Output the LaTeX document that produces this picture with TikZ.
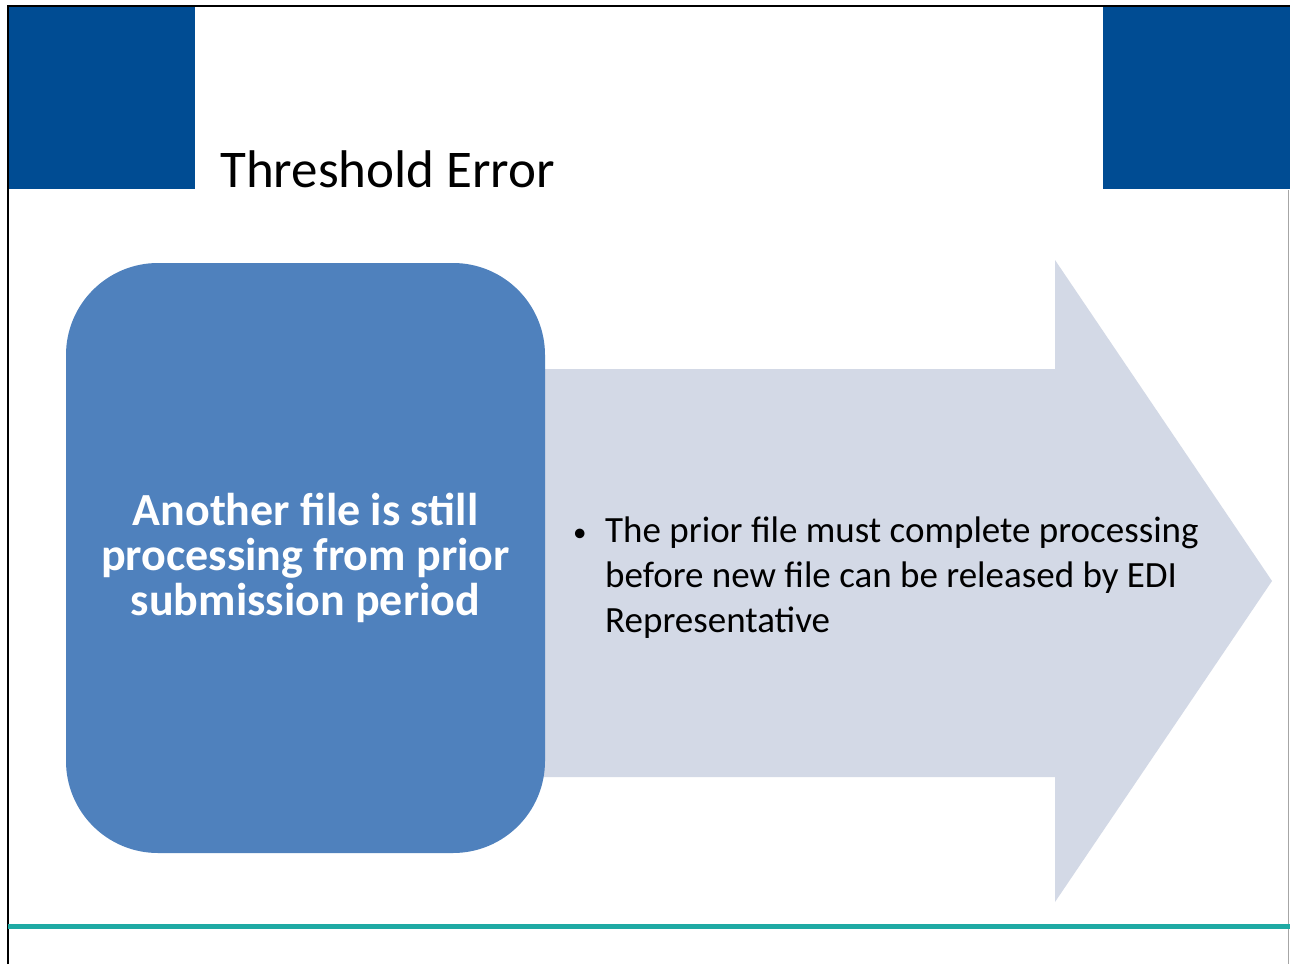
\documentclass[tikz,border=0pt]{standalone}
\usepackage{fontspec}
\setmainfont{Carlito}
\usepackage{xcolor}
\usepackage{tikz}
\usetikzlibrary{positioning}

\definecolor{slideblue}{RGB}{0,76,147}
\definecolor{boxblue}{RGB}{79,129,189}
\definecolor{arrowgrey}{RGB}{211,217,230}
\definecolor{teal}{RGB}{31,170,164}

\begin{document}
\begin{tikzpicture}[x=1pt,y=-1pt]
	\begin{scope}

\tikzset{cause/.style={fill=boxblue,draw=none,rounded corners=92pt,minimum width=479pt,minimum height=590pt,
		text=white,align=center,font=\bfseries\fontsize{46}{45}\selectfont},
	bullets/.style={anchor=base west,inner sep=0pt,
		font=\fontsize{37}{45}\selectfont}}

\useasboundingbox (0,0) rectangle (1290,964);
\fill[white] (0,0) rectangle (1290,964);

% the two blue corner blocks
\foreach \x in {8,1103}
{
\fill[slideblue] (\x,6) rectangle (\x+187,189);
}

% frame and bottom rule
\draw[black, line width=1.5pt] (8,964) -- (8,6) -- (1290,6);
\draw[gray!70, line width=1pt] (1288,190) -- (1288,964);
\draw[teal, line width=5pt] (8,926) -- (1290,926);

\node(title)[anchor=base west,inner sep=0pt,font=\fontsize{53}{60}\selectfont] at (220,187){Threshold Error};

% the big arrow
\fill[arrowgrey] (500,369) -- (1055,369) -- (1055,260) -- (1272,581)
	-- (1055,902) -- (1055,777) -- (500,777) -- cycle;

\node(cause)[cause] at (305.5,558){Another file is still\\processing from prior\\submission period};

\node(reason)[bullets] at (573,542){\begin{tabular}[t]{@{}l@{}l@{}}
	\makebox[32pt][l]{\raisebox{1pt}{\fontsize{27}{27}\selectfont\textbullet}} & The prior file must complete processing\\
	& before new file can be released by EDI\\
	& Representative
\end{tabular}};

	\end{scope}
\end{tikzpicture}
\end{document}
